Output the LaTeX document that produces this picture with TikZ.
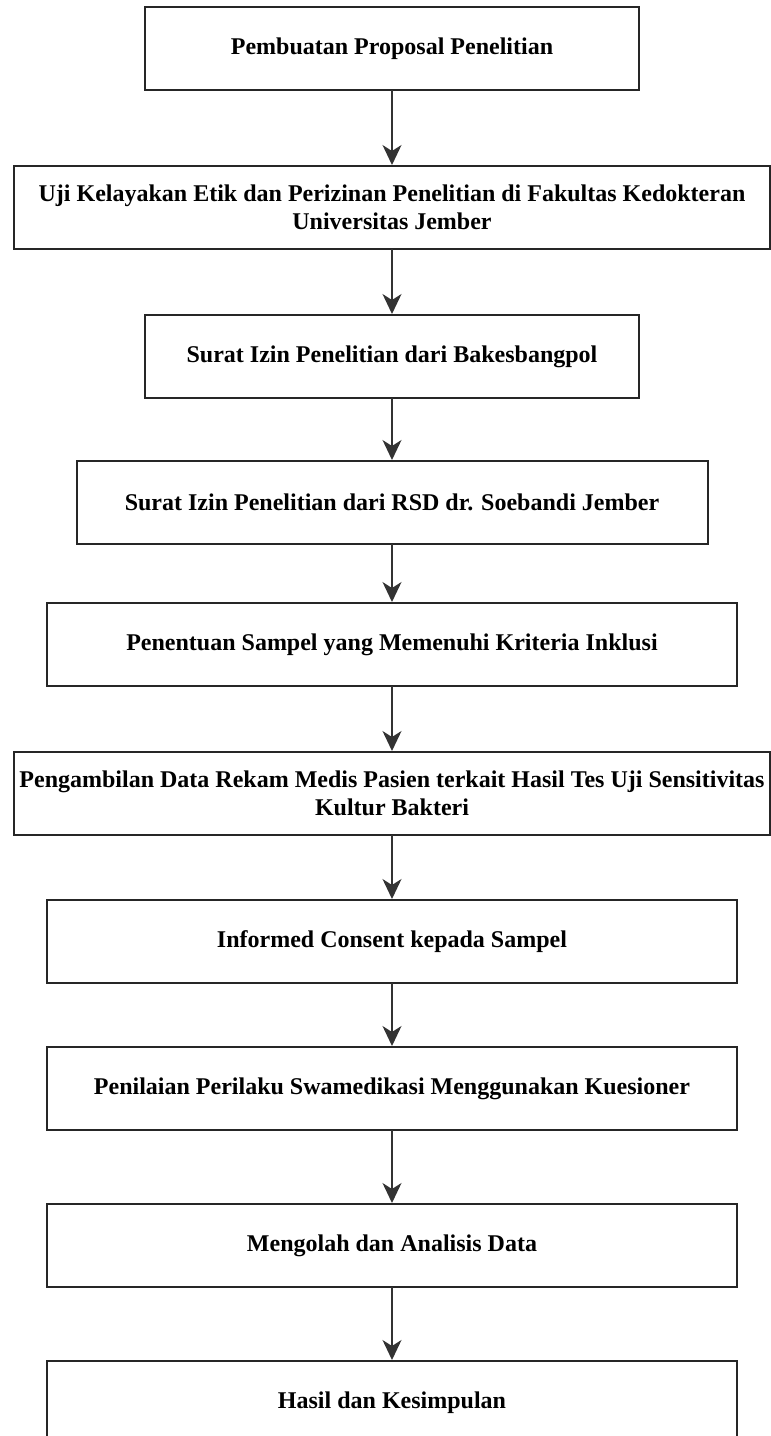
\documentclass[tikz,border=0pt]{standalone}
\usepackage{fontspec}
\setmainfont{Liberation Serif}
\usetikzlibrary{positioning,arrows.meta}
\tikzset{
  stepbox/.style  = {shape=rectangle, draw=black!85, line width=2pt,
                     align=center, inner sep=0pt, outer sep=0pt,
                     minimum height=83pt,
                     font=\fontsize{24}{28}\selectfont\bfseries},
  wide/.style     = {stepbox, minimum width=756pt},
  mid/.style      = {stepbox, minimum width=690pt},
  narrow/.style   = {stepbox, minimum width=494pt},
  flow/.style     = {draw=black!80, line width=1.5pt, shorten >=1pt,
                     -{Stealth[length=20pt, width=19pt, inset=6pt]}},
}

\begin{document}
\begin{tikzpicture}[x=1pt, y=-1pt]
  \useasboundingbox (0,0) rectangle (771,1436);
  \node [narrow] (proposal) at (392,48.5) {Pembuatan Proposal Penelitian};
  \node [wide, below=76pt of proposal] (etik)
    {Uji Kelayakan Etik dan Perizinan Penelitian di Fakultas Kedokteran\\Universitas Jember};
  \node [narrow, below=66pt of etik] (bakesbangpol)
    {Surat Izin Penelitian dari Bakesbangpol};
  \node [stepbox, minimum width=631pt, below=63pt of bakesbangpol] (rsd)
    {Surat Izin Penelitian dari RSD dr. Soebandi Jember};
  \node [mid, below=59pt of rsd] (sampel)
    {Penentuan Sampel yang Memenuhi Kriteria Inklusi};
  \node [wide, below=66pt of sampel] (rekammedis)
    {Pengambilan Data Rekam Medis Pasien terkait Hasil Tes Uji Sensitivitas\\Kultur Bakteri};
  \node [mid, below=65pt of rekammedis] (consent)
    {Informed Consent kepada Sampel};
  \node [mid, below=64pt of consent] (kuesioner)
    {Penilaian Perilaku Swamedikasi Menggunakan Kuesioner};
  \node [mid, below=74pt of kuesioner] (analisis)
    {Mengolah dan Analisis Data};
  \node [mid, below=74pt of analisis] (hasil)
    {Hasil dan Kesimpulan};

  % alur antar tahap
  \draw [flow] (proposal)     -- (etik);
  \draw [flow] (etik)         -- (bakesbangpol);
  \draw [flow] (bakesbangpol) -- (rsd);
  \draw [flow] (rsd)          -- (sampel);
  \draw [flow] (sampel)       -- (rekammedis);
  \draw [flow] (rekammedis)   -- (consent);
  \draw [flow] (consent)      -- (kuesioner);
  \draw [flow] (kuesioner)    -- (analisis);
  \draw [flow] (analisis)     -- (hasil);
\end{tikzpicture}
\end{document}
